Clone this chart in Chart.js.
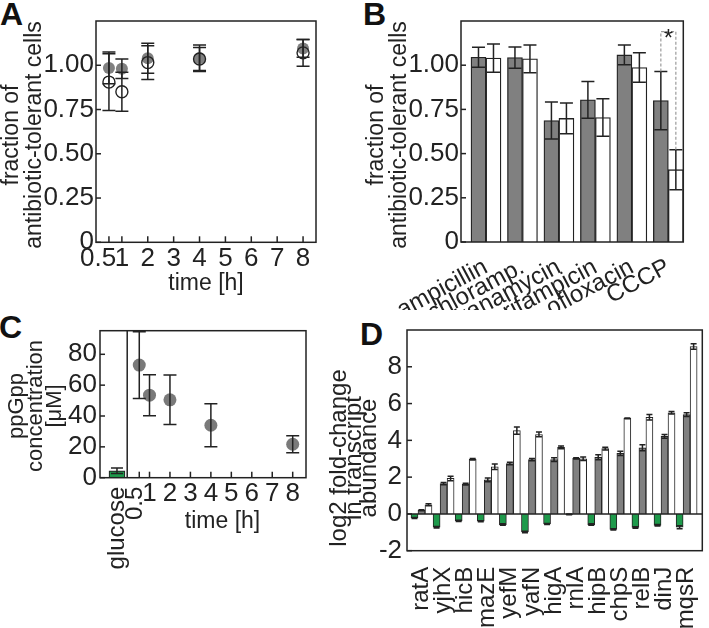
<!DOCTYPE html>
<html>
<head>
<meta charset="utf-8">
<script src="https://cdn.jsdelivr.net/npm/chart.js@4/dist/chart.umd.min.js"></script>
<style>
  body { margin: 0; background: #fff; width: 709px; height: 628px; position: relative; overflow: hidden; }
  canvas { position: absolute; }
  .tag { position: absolute; font: bold 32px "Liberation Sans", Arial, sans-serif; line-height: 32px; color: #111; }
</style>
</head>
<body>
<div class="tag" style="left:0px;top:-2px">A</div>
<div class="tag" style="left:363px;top:-2px">B</div>
<div class="tag" style="left:-1px;top:311px">C</div>
<div class="tag" style="left:360px;top:318px">D</div>
<canvas id="chartA" width="350" height="310" style="left:0;top:0"></canvas>
<canvas id="chartB" width="359" height="310" style="left:350px;top:0"></canvas>
<canvas id="chartC" width="318" height="318" style="left:0;top:310px"></canvas>
<canvas id="chartD" width="391" height="318" style="left:318px;top:310px"></canvas>
<script>
// Panel A: tolerant fraction over time (filled = grey points, open = open circles)
const TIME_A = [0.5, 1, 2, 4, 8];
const FILLED_A = [0.985, 0.98, 1.04, 1.04, 1.095];
const FILLED_A_ERR = [0.09, 0.055, 0.085, 0.075, 0.05];
const OPEN_A = [0.905, 0.85, 1.015, 1.035, 1.07];
const OPEN_A_ERR = [0.16, 0.11, 0.095, 0.065, 0.075];
const TIME_TICKS = [0.5, 1, 2, 3, 4, 5, 6, 7, 8];
const FRACTION_TICKS = [0, 0.25, 0.5, 0.75, 1];

// Panel B: tolerant fraction per antibiotic
const DRUGS = ['ampicillin', 'chloramp.', 'kanamycin', 'rifampicin', 'ofloxacin', 'CCCP'];
const GREY_B = [1.045, 1.043, 0.687, 0.804, 1.058, 0.8];
const GREY_B_ERR = [0.057, 0.06, 0.105, 0.104, 0.056, 0.165];
const WHITE_B = [1.04, 1.036, 0.699, 0.704, 0.987, 0.409];
const WHITE_B_ERR = [0.08, 0.078, 0.087, 0.106, 0.083, 0.113];
const SIGNIF_INDEX = 5;
const BRACKET_TOP = 1.19;

// Panel C: ppGpp concentration
const TIME_C = [0.5, 1, 2, 4, 8];
const PPGPP_C = [73, 53.5, 50.5, 34, 21.7];
const PPGPP_C_ERR = [21.6, 13.3, 16, 14, 5.5];
const GLUCOSE_X = -0.59;
const GLUCOSE_PPGPP = 4.5;
const GLUCOSE_ERR = 1.8;
const DIVIDER_X = -0.09;
const PPGPP_TICKS = [0, 20, 40, 60, 80];

// Panel D: log2 fold-change of toxin-antitoxin transcripts
const GENES = ['ratA', 'yjhX', 'hicB', 'mazE', 'yefM', 'yafN', 'higA', 'rnlA', 'hipB', 'chpS', 'relB', 'dinJ', 'mqsR'];
const GREEN_D = [-0.22, -0.72, -0.38, -0.4, -0.58, -0.98, -0.55, -0.03, -0.58, -0.84, -0.74, -0.62, -0.72];
const GREEN_D_ERR = [0.03, 0.04, 0.03, 0.03, 0.04, 0.04, 0.03, 0.02, 0.04, 0.04, 0.04, 0.04, 0.08];
const GREY_D = [0.2, 1.65, 1.62, 1.85, 2.74, 2.95, 2.95, 3.02, 3.08, 3.29, 3.6, 4.22, 5.4];
const GREY_D_ERR = [0.03, 0.06, 0.05, 0.1, 0.07, 0.06, 0.1, 0.03, 0.14, 0.12, 0.16, 0.1, 0.1];
const WHITE_D = [0.5, 1.93, 2.97, 2.56, 4.53, 4.32, 3.62, 3.0, 3.55, 5.2, 5.25, 5.5, 9.1];
const WHITE_D_ERR = [0.05, 0.12, 0.04, 0.15, 0.2, 0.13, 0.07, 0.1, 0.07, 0.02, 0.15, 0.07, 0.15];
const FOLD_TICKS = [-2, 0, 2, 4, 6, 8];

const INK = '#222';
const GREY = '#808080';
const GREEN = '#1e9a4b';
const FONT = '"Liberation Sans", Arial, sans-serif';

/** Inward tick marks and a closed box round the plot area. */
const framePlugin = {
  id: 'frame',
  afterDatasetsDraw(chart, args, o) {
    const { ctx, chartArea: a, scales } = chart;
    ctx.save();
    ctx.strokeStyle = INK;
    ctx.lineWidth = 1.5;
    const line = (x1, y1, x2, y2) => { ctx.beginPath(); ctx.moveTo(x1, y1); ctx.lineTo(x2, y2); ctx.stroke(); };
    if (o.zeroLine) {
      const y0 = scales.y.getPixelForValue(0);
      line(a.left, y0, a.right, y0);
    }
    if (o.divider != null) {
      const xd = scales.x.getPixelForValue(o.divider);
      line(xd, a.top, xd, a.bottom);
    }
    if (o.yTick) {
      scales.y.ticks.forEach((t, i) => {
        const y = scales.y.getPixelForTick(i);
        line(a.left, y, a.left + o.yTick, y);
      });
    }
    if (o.xTick) {
      scales.x.ticks.forEach((t, i) => {
        const x = scales.x.getPixelForTick(i);
        line(x, a.bottom, x, a.bottom - o.xTick);
      });
    }
    ctx.strokeRect(a.left, a.top, a.width, a.height);
    ctx.restore();
  },
};

/** Symmetric error bars from each dataset's `errors` list. */
const errorBarPlugin = {
  id: 'errorBars',
  afterDatasetsDraw(chart) {
    const { ctx } = chart;
    const yScale = chart.scales.y;
    ctx.save();
    ctx.strokeStyle = INK;
    ctx.lineWidth = 1.5;
    chart.data.datasets.forEach((ds, i) => {
      if (!ds.errors) return;
      const meta = chart.getDatasetMeta(i);
      meta.data.forEach((el, j) => {
        const v = meta.controller.getParsed(j).y;
        const e = ds.errors[j];
        const top = yScale.getPixelForValue(v + e);
        const bot = yScale.getPixelForValue(v - e);
        const half = ds.capWidth / 2;
        ctx.beginPath();
        ctx.moveTo(el.x, top); ctx.lineTo(el.x, bot);
        ctx.moveTo(el.x - half, top); ctx.lineTo(el.x + half, top);
        ctx.moveTo(el.x - half, bot); ctx.lineTo(el.x + half, bot);
        ctx.stroke();
      });
    });
    ctx.restore();
  },
};

/** Dashed significance bracket between the two bars of one group. */
const bracketPlugin = {
  id: 'bracket',
  afterDatasetsDraw(chart, args, o) {
    if (o.index == null) return;
    const { ctx } = chart;
    const yScale = chart.scales.y;
    const ends = [0, 1].map((d) => {
      const meta = chart.getDatasetMeta(d);
      const ds = chart.data.datasets[d];
      const v = meta.controller.getParsed(o.index).y + ds.errors[o.index];
      return { x: meta.data[o.index].x, y: yScale.getPixelForValue(v) };
    });
    const yTop = yScale.getPixelForValue(o.top);
    ctx.save();
    ctx.strokeStyle = '#9a9a9a';
    ctx.lineWidth = 1.2;
    ctx.setLineDash([3, 2]);
    ctx.beginPath();
    ctx.moveTo(ends[0].x, ends[0].y);
    ctx.lineTo(ends[0].x, yTop);
    ctx.lineTo(ends[1].x, yTop);
    ctx.lineTo(ends[1].x, ends[1].y);
    ctx.stroke();
    ctx.setLineDash([]);
    ctx.fillStyle = INK;
    ctx.font = `24px ${FONT}`;
    ctx.textAlign = 'center';
    ctx.textBaseline = 'alphabetic';
    ctx.fillText('*', (ends[0].x + ends[1].x) / 2, yTop + 14);
    ctx.restore();
  },
};

/** Free text: axis titles and rotated extra tick labels. */
const notesPlugin = {
  id: 'notes',
  afterDraw(chart, args, o) {
    const { ctx, chartArea } = chart;
    (o.items || []).forEach((n) => {
      const x = (n.xv != null ? chart.scales.x.getPixelForValue(n.xv) : n.x) + (n.dx || 0);
      const y = n.dy != null ? chartArea.bottom + n.dy : n.y;
      const lines = [].concat(n.text);
      ctx.save();
      ctx.translate(x, y);
      ctx.rotate((n.rot || 0) * Math.PI / 180);
      ctx.font = `${n.size}px ${FONT}`;
      ctx.fillStyle = INK;
      ctx.textAlign = n.align || 'center';
      ctx.textBaseline = 'middle';
      lines.forEach((t, k) => ctx.fillText(t, 0, (k - (lines.length - 1) / 2) * (n.lh || n.size)));
      ctx.restore();
    });
  },
};

const PLUGINS = [framePlugin, errorBarPlugin, bracketPlugin, notesPlugin];

function valueAxis(min, max, ticks, width, padding, callback) {
  return {
    min, max,
    grid: { display: false, drawTicks: false },
    border: { display: false },
    ticks: { font: { family: FONT, size: 26 }, color: INK, padding, callback },
    afterBuildTicks: (s) => { s.ticks = ticks.map((v) => ({ value: v })); },
    afterFit: (s) => { s.width = width; s.paddingTop = 0; s.paddingBottom = 0; },
  };
}

function indexAxis(min, max, ticks, height, tickOpts, callback, title) {
  return {
    type: 'linear', min, max, offset: false,
    grid: { display: false, drawTicks: false },
    border: { display: false },
    ticks: Object.assign({ font: { family: FONT, size: 26 }, color: INK, autoSkip: false, callback }, tickOpts),
    title: title || { display: false },
    afterBuildTicks: (s) => { s.ticks = ticks.map((v) => ({ value: v })); },
    afterFit: (s) => { s.height = height; s.paddingLeft = 0; s.paddingRight = 0; },
  };
}

const BASE = {
  responsive: false,
  animation: false,
  events: [],
};

Chart.defaults.font.family = FONT;

// ---- A ----
new Chart(document.getElementById('chartA'), {
  type: 'scatter',
  data: {
    datasets: [
      {
        data: TIME_A.map((t, i) => ({ x: t, y: OPEN_A[i] })),
        pointRadius: 6, pointBackgroundColor: 'rgba(0,0,0,0)', pointBorderColor: INK, pointBorderWidth: 1.4,
        errors: OPEN_A_ERR, capWidth: 13, order: 1,
      },
      {
        data: TIME_A.map((t, i) => ({ x: t, y: FILLED_A[i] })),
        pointRadius: 6, pointBackgroundColor: GREY, pointBorderWidth: 0,
        errors: FILLED_A_ERR, capWidth: 13, order: 2,
      },
    ],
  },
  options: Object.assign({}, BASE, {
    layout: { padding: { top: 21, right: 34, left: 0, bottom: 0 } },
    scales: {
      x: indexAxis(0, 8.5, TIME_TICKS, 67.7, { padding: 1, maxRotation: 0, minRotation: 0 },
        (v) => (v === 0.5 ? '0.5   ' : String(v)),
        { display: true, text: 'time [h]', color: INK, font: { family: FONT, size: 23 }, padding: { top: 0, bottom: 13 } }),
      y: valueAxis(0, 1.25, FRACTION_TICKS, 96, 2, (v) => (v === 0 ? '0' : v.toFixed(2))),
    },
    plugins: {
      legend: { display: false }, tooltip: { enabled: false },
      frame: { yTick: 5, xTick: 6 },
      notes: { items: [{ text: ['fraction of', 'antibiotic-tolerant cells'], x: 23.5, y: 135, rot: -90, size: 23, lh: 23 }] },
    },
  }),
  plugins: PLUGINS,
});

// ---- B ----
new Chart(document.getElementById('chartB'), {
  type: 'bar',
  data: {
    datasets: [
      {
        data: DRUGS.map((d, i) => ({ x: i, y: GREY_B[i] })),
        backgroundColor: GREY, borderColor: INK, borderWidth: 1.3, barThickness: 15,
        errors: GREY_B_ERR, capWidth: 13,
      },
      {
        data: DRUGS.map((d, i) => ({ x: i, y: WHITE_B[i] })),
        backgroundColor: '#fff', borderColor: INK, borderWidth: 1.3, barThickness: 15,
        errors: WHITE_B_ERR, capWidth: 13,
      },
    ],
  },
  options: Object.assign({}, BASE, {
    layout: { padding: { top: 21, right: 25.7, left: 0, bottom: 0 } },
    scales: {
      x: indexAxis(-0.685, 5.41, DRUGS.map((d, i) => i), 68,
        { padding: 11, maxRotation: 28, minRotation: 28, font: { family: FONT, size: 24 } },
        (v) => DRUGS[v]),
      y: valueAxis(0, 1.25, FRACTION_TICKS, 111, 2, (v) => (v === 0 ? '0' : v.toFixed(2))),
    },
    plugins: {
      legend: { display: false }, tooltip: { enabled: false },
      frame: { yTick: 5 },
      bracket: { index: SIGNIF_INDEX, top: BRACKET_TOP },
      notes: { items: [{ text: ['fraction of', 'antibiotic-tolerant cells'], x: 38, y: 135, rot: -90, size: 23, lh: 23 }] },
    },
  }),
  plugins: PLUGINS,
});

// ---- C ----
new Chart(document.getElementById('chartC'), {
  type: 'scatter',
  data: {
    datasets: [
      {
        type: 'bar',
        data: [{ x: GLUCOSE_X, y: GLUCOSE_PPGPP }],
        backgroundColor: GREEN, borderColor: INK, borderWidth: 1.2, barThickness: 16,
        errors: [GLUCOSE_ERR], capWidth: 12,
      },
      {
        data: TIME_C.map((t, i) => ({ x: t, y: PPGPP_C[i] })),
        pointRadius: 6.5, pointBackgroundColor: '#7a7a7a', pointBorderWidth: 0,
        errors: PPGPP_C_ERR, capWidth: 13,
      },
    ],
  },
  options: Object.assign({}, BASE, {
    layout: { padding: { top: 20.7, right: 12, left: 0, bottom: 0 } },
    scales: {
      x: indexAxis(-1.42, 8.65, TIME_TICKS, 150.3, { padding: 1, maxRotation: 0, minRotation: 0 },
        (v) => (v === 0.5 ? '' : String(v))),
      y: valueAxis(0, 95.3, PPGPP_TICKS, 100, 3, (v) => String(v)),
    },
    plugins: {
      legend: { display: false }, tooltip: { enabled: false },
      frame: { yTick: 5, xTick: 6, divider: DIVIDER_X },
      notes: {
        items: [
          { text: ['ppGpp', 'concentration', '[\u03bcM]'], x: 36, y: 96, rot: -90, size: 22, lh: 19 },
          { text: 'glucose', xv: GLUCOSE_X, dy: 9, rot: -90, size: 24, align: 'right' },
          { text: '0.5', xv: 0.5, dx: -4, dy: 9, rot: -90, size: 24, align: 'right' },
          { text: 'time [h]', x: 222.5, y: 212, size: 23 },
        ],
      },
    },
  }),
  plugins: PLUGINS,
});

// ---- D ----
const barD = (values, errors, color) => ({
  data: GENES.map((g, i) => ({ x: i, y: values[i] })),
  backgroundColor: color, borderColor: INK, borderWidth: 1, barThickness: 7,
  errors, capWidth: 6,
});

new Chart(document.getElementById('chartD'), {
  type: 'bar',
  data: {
    datasets: [
      barD(GREEN_D, GREEN_D_ERR, GREEN),
      barD(GREY_D, GREY_D_ERR, GREY),
      barD(WHITE_D, WHITE_D_ERR, '#fff'),
    ],
  },
  options: Object.assign({}, BASE, {
    layout: { padding: { top: 20, right: 6.7, left: 0, bottom: 0 } },
    scales: {
      x: indexAxis(-0.656, 12.71, GENES.map((g, i) => i), 77.3,
        { padding: 16, maxRotation: 90, minRotation: 90, font: { family: FONT, size: 24 } },
        (v) => GENES[v]),
      y: valueAxis(-2, 10, FOLD_TICKS, 89, 5, (v) => String(v)),
    },
    plugins: {
      legend: { display: false }, tooltip: { enabled: false },
      frame: { yTick: 5, zeroLine: true },
      notes: { items: [{ text: ['log2 fold-change', 'in transcript', 'abundance'], x: 36, y: 148, rot: -90, size: 24, lh: 15 }] },
    },
  }),
  plugins: PLUGINS,
});
</script>
</body>
</html>
